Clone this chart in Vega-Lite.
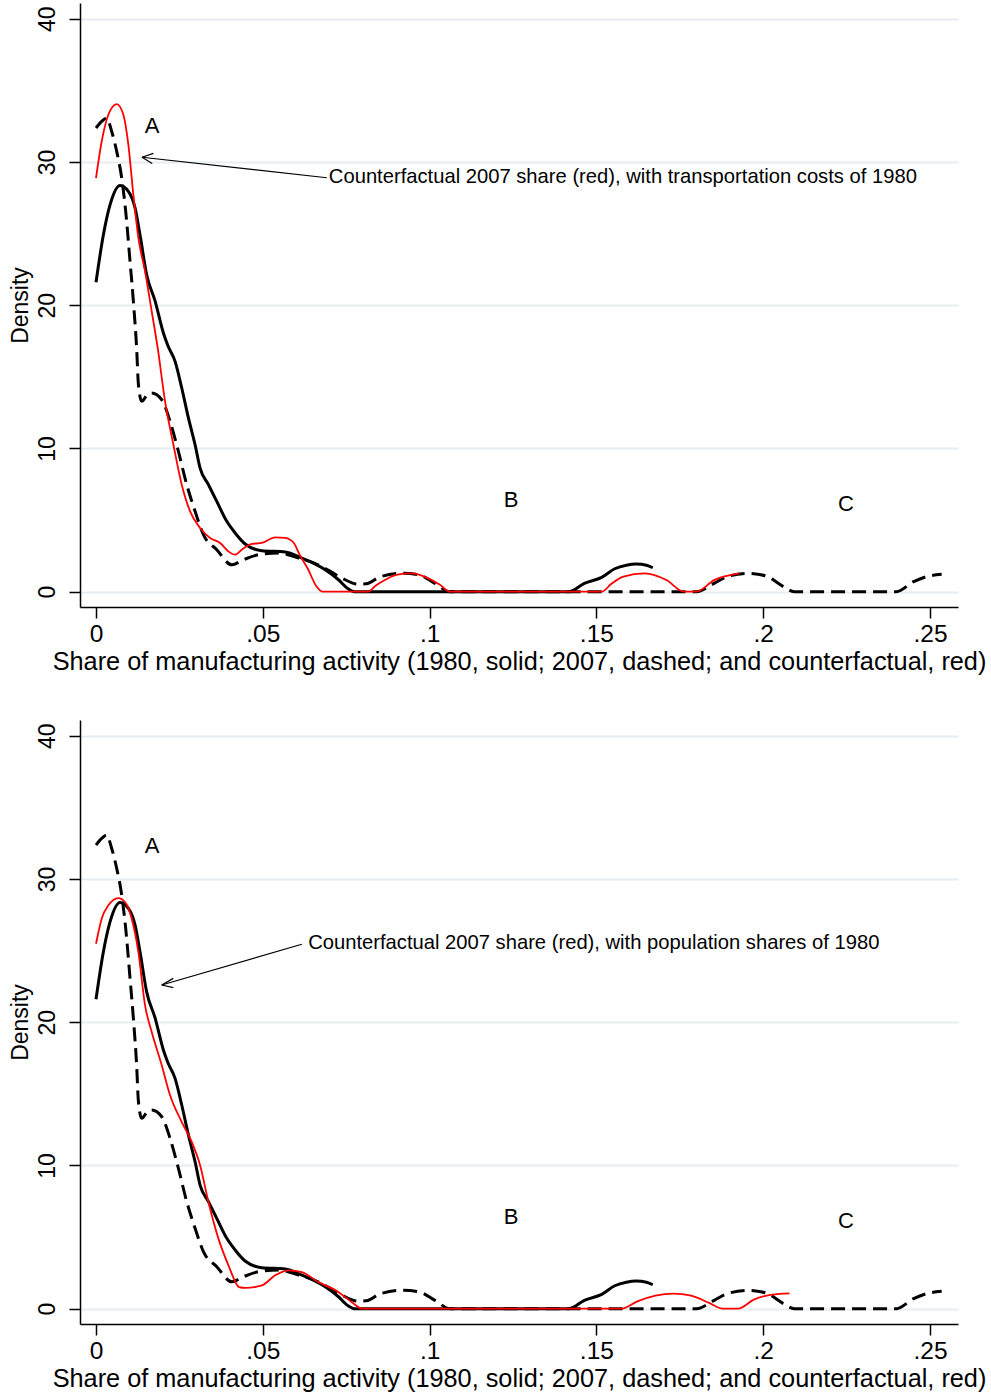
{
  "$schema": "https://vega.github.io/schema/vega-lite/v6.json",
  "padding": {"left": 9, "top": 3, "right": 0, "bottom": 0},
  "spacing": 45,
  "config": {
    "font": "Liberation Sans",
    "view": {"stroke": null},
    "axisX": {"domainColor": "black", "domainWidth": 1.5, "tickColor": "black", "tickWidth": 1.5, "tickSize": 11, "labelFontSize": 24.5, "labelColor": "black", "labelPadding": 4, "titleFontSize": 25.3, "titleFontWeight": "normal", "titleColor": "black", "titlePadding": 4, "grid": false, "labelFlush": false},
    "axisY": {"domainColor": "black", "domainWidth": 1.5, "tickColor": "black", "tickWidth": 1.5, "tickSize": 11, "labelFontSize": 23, "labelColor": "black", "labelPadding": 10, "labelAngle": -90, "titleFontSize": 23, "titleFontWeight": "normal", "titleColor": "black", "titlePadding": 4, "grid": true, "gridColor": "#E6EEF1", "gridWidth": 2}
  },
  "datasets": {
    "curves": [
      {"s": "1980", "x": 0, "y": 21.6}, {"s": "1980", "x": 0.0022, "y": 24.9}, {"s": "1980", "x": 0.0042, "y": 27.0}, {"s": "1980", "x": 0.0072, "y": 28.36}, {"s": "1980", "x": 0.0097, "y": 27.95}, {"s": "1980", "x": 0.0117, "y": 26.8}, {"s": "1980", "x": 0.0132, "y": 24.9}, {"s": "1980", "x": 0.0152, "y": 22.1}, {"s": "1980", "x": 0.0177, "y": 20.3}, {"s": "1980", "x": 0.0202, "y": 18.06}, {"s": "1980", "x": 0.0215, "y": 17.2}, {"s": "1980", "x": 0.0237, "y": 16.08}, {"s": "1980", "x": 0.0257, "y": 14.22}, {"s": "1980", "x": 0.0277, "y": 12.13}, {"s": "1980", "x": 0.0297, "y": 10.26}, {"s": "1980", "x": 0.0312, "y": 8.63}, {"s": "1980", "x": 0.0337, "y": 7.47}, {"s": "1980", "x": 0.0362, "y": 6.3}, {"s": "1980", "x": 0.0392, "y": 4.91}, {"s": "1980", "x": 0.0417, "y": 4.1}, {"s": "1980", "x": 0.0447, "y": 3.33}, {"s": "1980", "x": 0.0497, "y": 2.86}, {"s": "1980", "x": 0.0567, "y": 2.77}, {"s": "1980", "x": 0.0617, "y": 2.35}, {"s": "1980", "x": 0.0686, "y": 1.55}, {"s": "1980", "x": 0.0726, "y": 0.85}, {"s": "1980", "x": 0.0756, "y": 0.2}, {"s": "1980", "x": 0.0775, "y": 0}, {"s": "1980", "x": 0.1, "y": 0}, {"s": "1980", "x": 0.12, "y": 0}, {"s": "1980", "x": 0.1418, "y": 0}, {"s": "1980", "x": 0.1464, "y": 0.58}, {"s": "1980", "x": 0.1516, "y": 1.0}, {"s": "1980", "x": 0.1555, "y": 1.6}, {"s": "1980", "x": 0.159, "y": 1.85}, {"s": "1980", "x": 0.162, "y": 1.93}, {"s": "1980", "x": 0.165, "y": 1.85}, {"s": "1980", "x": 0.1669, "y": 1.67},
      {"s": "2007", "x": 0, "y": 32.37}, {"s": "2007", "x": 0.0017, "y": 32.83}, {"s": "2007", "x": 0.0032, "y": 33.07}, {"s": "2007", "x": 0.0047, "y": 32.13}, {"s": "2007", "x": 0.0062, "y": 30.74}, {"s": "2007", "x": 0.0077, "y": 28.88}, {"s": "2007", "x": 0.0089, "y": 26.55}, {"s": "2007", "x": 0.0102, "y": 23.06}, {"s": "2007", "x": 0.0112, "y": 20.27}, {"s": "2007", "x": 0.0122, "y": 16.9}, {"s": "2007", "x": 0.0127, "y": 14.5}, {"s": "2007", "x": 0.0137, "y": 13.29}, {"s": "2007", "x": 0.0152, "y": 13.7}, {"s": "2007", "x": 0.0167, "y": 13.87}, {"s": "2007", "x": 0.0197, "y": 13.4}, {"s": "2007", "x": 0.0222, "y": 11.89}, {"s": "2007", "x": 0.0247, "y": 9.79}, {"s": "2007", "x": 0.0272, "y": 7.47}, {"s": "2007", "x": 0.0297, "y": 5.61}, {"s": "2007", "x": 0.0322, "y": 3.98}, {"s": "2007", "x": 0.0362, "y": 2.93}, {"s": "2007", "x": 0.0407, "y": 1.88}, {"s": "2007", "x": 0.0442, "y": 2.23}, {"s": "2007", "x": 0.0487, "y": 2.58}, {"s": "2007", "x": 0.0547, "y": 2.7}, {"s": "2007", "x": 0.0607, "y": 2.35}, {"s": "2007", "x": 0.0666, "y": 1.88}, {"s": "2007", "x": 0.07, "y": 1.45}, {"s": "2007", "x": 0.0737, "y": 0.95}, {"s": "2007", "x": 0.0786, "y": 0.53}, {"s": "2007", "x": 0.081, "y": 0.55}, {"s": "2007", "x": 0.0853, "y": 1.05}, {"s": "2007", "x": 0.0918, "y": 1.28}, {"s": "2007", "x": 0.097, "y": 1.16}, {"s": "2007", "x": 0.1016, "y": 0.58}, {"s": "2007", "x": 0.1061, "y": 0}, {"s": "2007", "x": 0.13, "y": 0}, {"s": "2007", "x": 0.16, "y": 0}, {"s": "2007", "x": 0.18, "y": 0}, {"s": "2007", "x": 0.1853, "y": 0.58}, {"s": "2007", "x": 0.1892, "y": 1.05}, {"s": "2007", "x": 0.1957, "y": 1.28}, {"s": "2007", "x": 0.2009, "y": 1.09}, {"s": "2007", "x": 0.2061, "y": 0.35}, {"s": "2007", "x": 0.2093, "y": 0}, {"s": "2007", "x": 0.225, "y": 0}, {"s": "2007", "x": 0.2399, "y": 0}, {"s": "2007", "x": 0.2451, "y": 0.7}, {"s": "2007", "x": 0.249, "y": 1.05}, {"s": "2007", "x": 0.2535, "y": 1.21},
      {"s": "cf_tc", "x": 0, "y": 28.88}, {"s": "cf_tc", "x": 0.0017, "y": 31.43}, {"s": "cf_tc", "x": 0.0037, "y": 33.3}, {"s": "cf_tc", "x": 0.0062, "y": 34.04}, {"s": "cf_tc", "x": 0.0082, "y": 33.3}, {"s": "cf_tc", "x": 0.0097, "y": 31.2}, {"s": "cf_tc", "x": 0.0112, "y": 27.7}, {"s": "cf_tc", "x": 0.0127, "y": 24.7}, {"s": "cf_tc", "x": 0.0147, "y": 22.36}, {"s": "cf_tc", "x": 0.0167, "y": 19.57}, {"s": "cf_tc", "x": 0.0185, "y": 17.0}, {"s": "cf_tc", "x": 0.0207, "y": 13.29}, {"s": "cf_tc", "x": 0.0232, "y": 10.26}, {"s": "cf_tc", "x": 0.0257, "y": 7.47}, {"s": "cf_tc", "x": 0.0282, "y": 5.61}, {"s": "cf_tc", "x": 0.0312, "y": 4.45}, {"s": "cf_tc", "x": 0.0342, "y": 3.75}, {"s": "cf_tc", "x": 0.0372, "y": 3.4}, {"s": "cf_tc", "x": 0.0397, "y": 2.81}, {"s": "cf_tc", "x": 0.0417, "y": 2.58}, {"s": "cf_tc", "x": 0.0437, "y": 2.93}, {"s": "cf_tc", "x": 0.0467, "y": 3.33}, {"s": "cf_tc", "x": 0.0497, "y": 3.4}, {"s": "cf_tc", "x": 0.0537, "y": 3.79}, {"s": "cf_tc", "x": 0.0567, "y": 3.75}, {"s": "cf_tc", "x": 0.0593, "y": 3.4}, {"s": "cf_tc", "x": 0.061, "y": 2.6}, {"s": "cf_tc", "x": 0.0635, "y": 1.6}, {"s": "cf_tc", "x": 0.066, "y": 0.4}, {"s": "cf_tc", "x": 0.068, "y": 0}, {"s": "cf_tc", "x": 0.0814, "y": 0}, {"s": "cf_tc", "x": 0.084, "y": 0.45}, {"s": "cf_tc", "x": 0.0866, "y": 0.81}, {"s": "cf_tc", "x": 0.09, "y": 1.18}, {"s": "cf_tc", "x": 0.0944, "y": 1.28}, {"s": "cf_tc", "x": 0.097, "y": 1.18}, {"s": "cf_tc", "x": 0.0996, "y": 0.93}, {"s": "cf_tc", "x": 0.103, "y": 0.5}, {"s": "cf_tc", "x": 0.1061, "y": 0}, {"s": "cf_tc", "x": 0.13, "y": 0}, {"s": "cf_tc", "x": 0.1516, "y": 0}, {"s": "cf_tc", "x": 0.1545, "y": 0.55}, {"s": "cf_tc", "x": 0.1581, "y": 1.05}, {"s": "cf_tc", "x": 0.1645, "y": 1.28}, {"s": "cf_tc", "x": 0.171, "y": 0.81}, {"s": "cf_tc", "x": 0.1762, "y": 0}, {"s": "cf_tc", "x": 0.18, "y": 0}, {"s": "cf_tc", "x": 0.1853, "y": 0.81}, {"s": "cf_tc", "x": 0.1928, "y": 1.28},
      {"s": "cf_pop", "x": 0, "y": 25.48}, {"s": "cf_pop", "x": 0.0017, "y": 27.23}, {"s": "cf_pop", "x": 0.0037, "y": 28.16}, {"s": "cf_pop", "x": 0.0067, "y": 28.67}, {"s": "cf_pop", "x": 0.0087, "y": 28.39}, {"s": "cf_pop", "x": 0.0107, "y": 27.23}, {"s": "cf_pop", "x": 0.0127, "y": 24.9}, {"s": "cf_pop", "x": 0.0147, "y": 21.18}, {"s": "cf_pop", "x": 0.0167, "y": 19.32}, {"s": "cf_pop", "x": 0.0197, "y": 17.0}, {"s": "cf_pop", "x": 0.0222, "y": 14.9}, {"s": "cf_pop", "x": 0.0257, "y": 13.03}, {"s": "cf_pop", "x": 0.0287, "y": 11.64}, {"s": "cf_pop", "x": 0.0312, "y": 10.01}, {"s": "cf_pop", "x": 0.0337, "y": 7.45}, {"s": "cf_pop", "x": 0.0367, "y": 4.89}, {"s": "cf_pop", "x": 0.0397, "y": 3.03}, {"s": "cf_pop", "x": 0.0429, "y": 1.51}, {"s": "cf_pop", "x": 0.0447, "y": 1.45}, {"s": "cf_pop", "x": 0.0497, "y": 1.62}, {"s": "cf_pop", "x": 0.0537, "y": 2.33}, {"s": "cf_pop", "x": 0.0577, "y": 2.68}, {"s": "cf_pop", "x": 0.0617, "y": 2.56}, {"s": "cf_pop", "x": 0.0666, "y": 1.86}, {"s": "cf_pop", "x": 0.0726, "y": 1.17}, {"s": "cf_pop", "x": 0.0766, "y": 0.47}, {"s": "cf_pop", "x": 0.0799, "y": 0}, {"s": "cf_pop", "x": 0.12, "y": 0}, {"s": "cf_pop", "x": 0.1576, "y": 0}, {"s": "cf_pop", "x": 0.1623, "y": 0.51}, {"s": "cf_pop", "x": 0.1677, "y": 0.91}, {"s": "cf_pop", "x": 0.1731, "y": 1.05}, {"s": "cf_pop", "x": 0.1784, "y": 0.91}, {"s": "cf_pop", "x": 0.1838, "y": 0.4}, {"s": "cf_pop", "x": 0.1878, "y": 0}, {"s": "cf_pop", "x": 0.1925, "y": 0}, {"s": "cf_pop", "x": 0.1972, "y": 0.63}, {"s": "cf_pop", "x": 0.2026, "y": 0.98}, {"s": "cf_pop", "x": 0.2079, "y": 1.07}
    ],
    "letters": [
      {"panel": 1, "t": "A", "x": 0.0168, "y": 32.53}, {"panel": 1, "t": "B", "x": 0.1244, "y": 6.42}, {"panel": 1, "t": "C", "x": 0.2248, "y": 6.14},
      {"panel": 2, "t": "A", "x": 0.0168, "y": 32.3}, {"panel": 2, "t": "B", "x": 0.1244, "y": 6.4}, {"panel": 2, "t": "C", "x": 0.2248, "y": 6.12}
    ],
    "notes": [
      {"panel": 1, "t": "Counterfactual 2007 share (red), with transportation costs of 1980", "x": 0.0698, "y": 28.97},
      {"panel": 2, "t": "Counterfactual 2007 share (red), with population shares of 1980", "x": 0.0636, "y": 25.53}
    ],
    "arrows": [
      {"panel": 1, "x": 0.0692, "y": 28.9, "x2": 0.01379, "y2": 30.33},
      {"panel": 1, "x": 0.01379, "y": 30.33, "x2": 0.01685, "y2": 29.9},
      {"panel": 1, "x": 0.01379, "y": 30.33, "x2": 0.01721, "y2": 30.6},
      {"panel": 2, "x": 0.0617, "y": 25.44, "x2": 0.0197, "y2": 22.6},
      {"panel": 2, "x": 0.0197, "y": 22.6, "x2": 0.02317, "y2": 23.06},
      {"panel": 2, "x": 0.0197, "y": 22.6, "x2": 0.02317, "y2": 22.41}
    ]
  },
  "vconcat": [
    {
      "width": 878, "height": 604,
      "encoding": {
        "x": {"field": "x", "type": "quantitative", "scale": {"domain": [-0.0048, 0.2584], "nice": false, "zero": false},
              "axis": {"values": [0, 0.05, 0.1, 0.15, 0.2, 0.25], "labelExpr": "datum.value == 0 ? '0' : substring(format(datum.value, '~g'), 1)", "title": "Share of manufacturing activity (1980, solid; 2007, dashed; and counterfactual, red)"}},
        "y": {"field": "y", "type": "quantitative", "scale": {"domain": [-1.07, 41.1], "nice": false, "zero": false},
              "axis": {"values": [0, 10, 20, 30, 40], "title": "Density"}}
      },
      "layer": [
        {"data": {"name": "curves"}, "transform": [{"filter": "datum.s == '1980'"}], "mark": {"type": "line", "color": "black", "strokeWidth": 3, "interpolate": "monotone", "strokeJoin": "round"}},
        {"data": {"name": "curves"}, "transform": [{"filter": "datum.s == '2007'"}], "mark": {"type": "line", "color": "black", "strokeWidth": 3, "strokeDash": [14, 7], "interpolate": "monotone", "strokeJoin": "round"}},
        {"data": {"name": "curves"}, "transform": [{"filter": "datum.s == 'cf_tc'"}], "mark": {"type": "line", "color": "#FF0000", "strokeWidth": 1.8, "interpolate": "monotone", "strokeJoin": "round"}},
        {"data": {"name": "arrows"}, "transform": [{"filter": "datum.panel == 1"}], "mark": {"type": "rule", "color": "black", "strokeWidth": 1.2}, "encoding": {"x2": {"field": "x2"}, "y2": {"field": "y2"}}},
        {"data": {"name": "letters"}, "transform": [{"filter": "datum.panel == 1"}], "mark": {"type": "text", "fontSize": 22, "align": "center", "baseline": "middle", "color": "black"}, "encoding": {"text": {"field": "t"}}},
        {"data": {"name": "notes"}, "transform": [{"filter": "datum.panel == 1"}], "mark": {"type": "text", "fontSize": 20.2, "align": "left", "baseline": "middle", "color": "black"}, "encoding": {"text": {"field": "t"}}}
      ]
    },
    {
      "width": 878, "height": 604,
      "encoding": {
        "x": {"field": "x", "type": "quantitative", "scale": {"domain": [-0.0048, 0.2584], "nice": false, "zero": false},
              "axis": {"values": [0, 0.05, 0.1, 0.15, 0.2, 0.25], "labelExpr": "datum.value == 0 ? '0' : substring(format(datum.value, '~g'), 1)", "title": "Share of manufacturing activity (1980, solid; 2007, dashed; and counterfactual, red)"}},
        "y": {"field": "y", "type": "quantitative", "scale": {"domain": [-1.07, 41.1], "nice": false, "zero": false},
              "axis": {"values": [0, 10, 20, 30, 40], "title": "Density"}}
      },
      "layer": [
        {"data": {"name": "curves"}, "transform": [{"filter": "datum.s == '1980'"}], "mark": {"type": "line", "color": "black", "strokeWidth": 3, "interpolate": "monotone", "strokeJoin": "round"}},
        {"data": {"name": "curves"}, "transform": [{"filter": "datum.s == '2007'"}], "mark": {"type": "line", "color": "black", "strokeWidth": 3, "strokeDash": [14, 7], "interpolate": "monotone", "strokeJoin": "round"}},
        {"data": {"name": "curves"}, "transform": [{"filter": "datum.s == 'cf_pop'"}], "mark": {"type": "line", "color": "#FF0000", "strokeWidth": 1.8, "interpolate": "monotone", "strokeJoin": "round"}},
        {"data": {"name": "arrows"}, "transform": [{"filter": "datum.panel == 2"}], "mark": {"type": "rule", "color": "black", "strokeWidth": 1.2}, "encoding": {"x2": {"field": "x2"}, "y2": {"field": "y2"}}},
        {"data": {"name": "letters"}, "transform": [{"filter": "datum.panel == 2"}], "mark": {"type": "text", "fontSize": 22, "align": "center", "baseline": "middle", "color": "black"}, "encoding": {"text": {"field": "t"}}},
        {"data": {"name": "notes"}, "transform": [{"filter": "datum.panel == 2"}], "mark": {"type": "text", "fontSize": 20.2, "align": "left", "baseline": "middle", "color": "black"}, "encoding": {"text": {"field": "t"}}}
      ]
    }
  ]
}
